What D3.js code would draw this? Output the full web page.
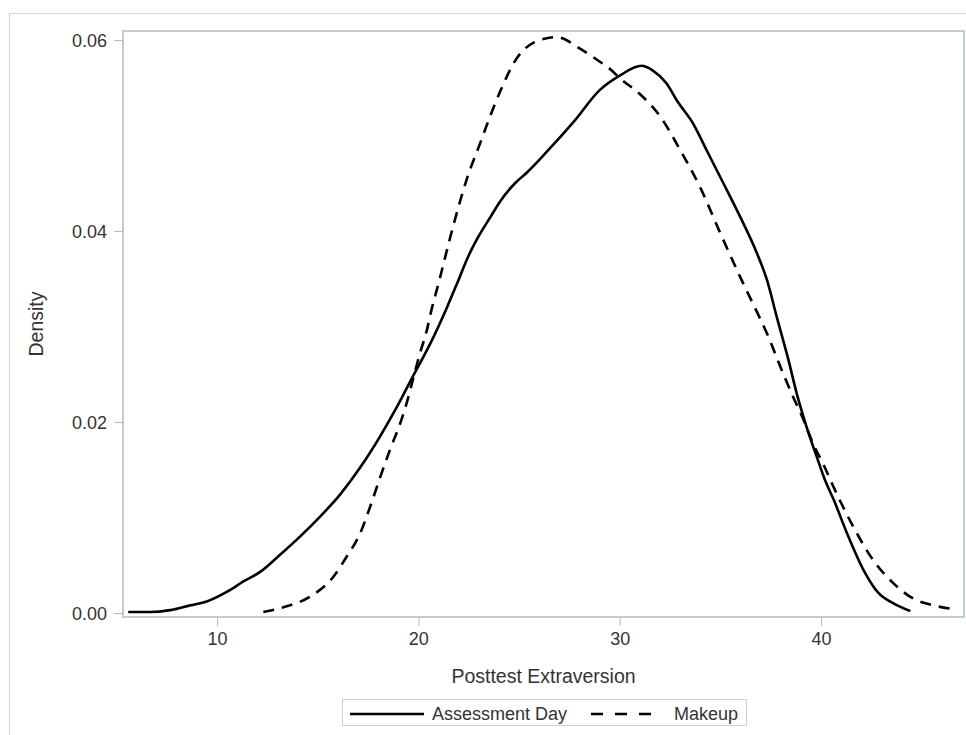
<!DOCTYPE html>
<html>
<head>
<meta charset="utf-8">
<script src="https://cdnjs.cloudflare.com/ajax/libs/d3/7.8.5/d3.min.js"></script>
<style>
  html, body { margin: 0; padding: 0; background: #fff; }
  svg { display: block; font-family: "Liberation Sans", Arial, sans-serif; }
</style>
</head>
<body>
<svg id="chart" width="966" height="735"></svg>
<script>
// Kernel density estimates of Posttest Extraversion, one curve per group
const seriesNames = ["Assessment Day", "Makeup"];

const assessmentX = [5.59, 6.67, 7.67, 8.66, 9.49, 10.48, 11.31, 12.14, 13.13, 14.12, 15.12, 16.11,
  17.10, 18.10, 18.94, 19.76, 20.59, 21.42, 22.00, 22.47, 22.98, 23.56, 24.06, 24.80, 25.38, 26.38,
  27.70, 29.03, 30.02, 31.08, 31.65, 32.31, 32.89, 33.66, 34.33, 35.15, 35.98, 36.81, 37.31, 37.80,
  38.38, 38.79, 39.28, 39.78, 40.20, 40.62, 41.28, 42.11, 42.85, 43.60, 44.43];
const assessmentY = [0.0001, 0.0001, 0.0003, 0.0008, 0.0012, 0.0022, 0.0033, 0.0043, 0.0061, 0.0080,
  0.0101, 0.0124, 0.0152, 0.0185, 0.0216, 0.0249, 0.0282, 0.0320, 0.0349, 0.0373, 0.0394, 0.0414,
  0.0431, 0.0450, 0.0461, 0.0483, 0.0514, 0.0548, 0.0563, 0.0573, 0.0568, 0.0555, 0.0535, 0.0512,
  0.0484, 0.0450, 0.0415, 0.0377, 0.0349, 0.0310, 0.0265, 0.0230, 0.0195, 0.0164, 0.0139, 0.0119,
  0.0084, 0.0045, 0.0021, 0.0010, 0.0002];

const makeupX = [12.30, 13.46, 14.62, 15.78, 16.44, 17.10, 17.60, 18.10, 18.59, 19.12, 19.45, 19.76,
  20.08, 20.42, 20.67, 21.00, 21.24, 21.74, 22.07, 22.40, 23.07, 23.56, 24.06, 24.89, 25.71, 26.88,
  28.03, 29.03, 29.38, 30.12, 30.97, 32.01, 33.00, 33.99, 34.99, 35.98, 36.73, 37.31, 38.13, 38.62,
  39.12, 39.61, 40.11, 40.62, 41.61, 42.60, 43.60, 44.59, 45.58, 46.58];
const makeupY = [0.0001, 0.0007, 0.0017, 0.0038, 0.0059, 0.0083, 0.0111, 0.0142, 0.0171, 0.0200,
  0.0222, 0.0247, 0.0272, 0.0296, 0.0319, 0.0345, 0.0365, 0.0406, 0.0431, 0.0454, 0.0492, 0.0520,
  0.0546, 0.0581, 0.0597, 0.0603, 0.0591, 0.0577, 0.0572, 0.0558, 0.0544, 0.0520, 0.0485, 0.0446,
  0.0398, 0.0352, 0.0319, 0.0293, 0.0250, 0.0226, 0.0203, 0.0177, 0.0156, 0.0132, 0.0090, 0.0055,
  0.0031, 0.0015, 0.0008, 0.0004];

const xTicks = [10, 20, 30, 40];
const yTicks = [0.00, 0.02, 0.04, 0.06];
const xTitle = "Posttest Extraversion";
const yTitle = "Density";

const svg = d3.select("#chart");

// Frame of the plot area
const frame = { left: 123, top: 31, right: 964, bottom: 617 };

const x = d3.scaleLinear().domain([5.33, 47.1]).range([frame.left, frame.right]);
const y = d3.scaleLinear().domain([0, 0.06]).range([613, 40]);

const gridGray = "#b4babe";
const textColor = "#333333";

// Outer border of the graph area
svg.append("rect")
  .attr("x", 9.5).attr("y", 13.5)
  .attr("width", 1000).attr("height", 800)
  .attr("fill", "none").attr("stroke", "#d4d4d4").attr("stroke-width", 1);

// Axes
const xAxis = d3.axisBottom(x).tickValues(xTicks).tickSize(9).tickPadding(6)
  .tickFormat(d3.format("d"));
const yAxis = d3.axisLeft(y).tickValues(yTicks).tickSize(9).tickPadding(7)
  .tickFormat(d3.format(".2f"));

const gx = svg.append("g").attr("transform", `translate(0,${frame.bottom})`).call(xAxis);
const gy = svg.append("g").attr("transform", `translate(${frame.left},0)`).call(yAxis);

[gx, gy].forEach(g => {
  g.select(".domain").remove();
  g.selectAll(".tick line").attr("stroke", gridGray).attr("stroke-width", 1);
  g.selectAll(".tick text").attr("fill", textColor).attr("font-size", 18)
    .attr("font-family", "'Liberation Sans', Arial, sans-serif");
});
gy.selectAll(".tick text").attr("dy", "0.35em");

// Plot area frame
svg.append("rect")
  .attr("x", frame.left).attr("y", frame.top)
  .attr("width", frame.right - frame.left).attr("height", frame.bottom - frame.top)
  .attr("fill", "none").attr("stroke", gridGray).attr("stroke-width", 1.5);

// Axis titles
svg.append("text")
  .attr("x", (frame.left + frame.right) / 2).attr("y", 683)
  .attr("text-anchor", "middle").attr("font-size", 19.5).attr("fill", textColor)
  .text(xTitle);

svg.append("text")
  .attr("transform", `translate(43,${(frame.top + frame.bottom) / 2}) rotate(-90)`)
  .attr("text-anchor", "middle").attr("font-size", 19.5).attr("fill", textColor)
  .text(yTitle);

// Density curves
svg.append("clipPath").attr("id", "plot-clip")
  .append("rect")
  .attr("x", frame.left).attr("y", frame.top)
  .attr("width", frame.right - frame.left).attr("height", frame.bottom - frame.top);

const line = d3.line()
  .x(d => x(d[0]))
  .y(d => y(d[1]))
  .curve(d3.curveMonotoneX);

const series = [
  { name: seriesNames[0], pts: d3.zip(assessmentX, assessmentY), dash: null },
  { name: seriesNames[1], pts: d3.zip(makeupX, makeupY), dash: "11,8" }
];

const curves = svg.append("g").attr("clip-path", "url(#plot-clip)");
series.forEach(s => {
  curves.append("path")
    .datum(s.pts)
    .attr("d", line)
    .attr("fill", "none")
    .attr("stroke", "#000")
    .attr("stroke-width", 2.6)
    .attr("stroke-linejoin", "round")
    .attr("stroke-dasharray", s.dash);
});

// Legend
const legend = svg.append("g");
legend.append("rect")
  .attr("x", 342.5).attr("y", 699.5).attr("width", 404).attr("height", 26)
  .attr("fill", "#fff").attr("stroke", "#cfcfcf").attr("stroke-width", 1);

const legendItems = [
  { name: series[0].name, dash: null, x0: 350, x1: 424, tx: 432 },
  { name: series[1].name, dash: "12,12", x0: 591, x1: 654, tx: 674 }
];
legendItems.forEach(it => {
  legend.append("line")
    .attr("x1", it.x0).attr("x2", it.x1).attr("y1", 714).attr("y2", 714)
    .attr("stroke", "#000").attr("stroke-width", 2.6)
    .attr("stroke-dasharray", it.dash);
  legend.append("text")
    .attr("x", it.tx).attr("y", 719.5)
    .attr("font-size", 18).attr("fill", textColor)
    .text(it.name);
});
</script>
</body>
</html>
